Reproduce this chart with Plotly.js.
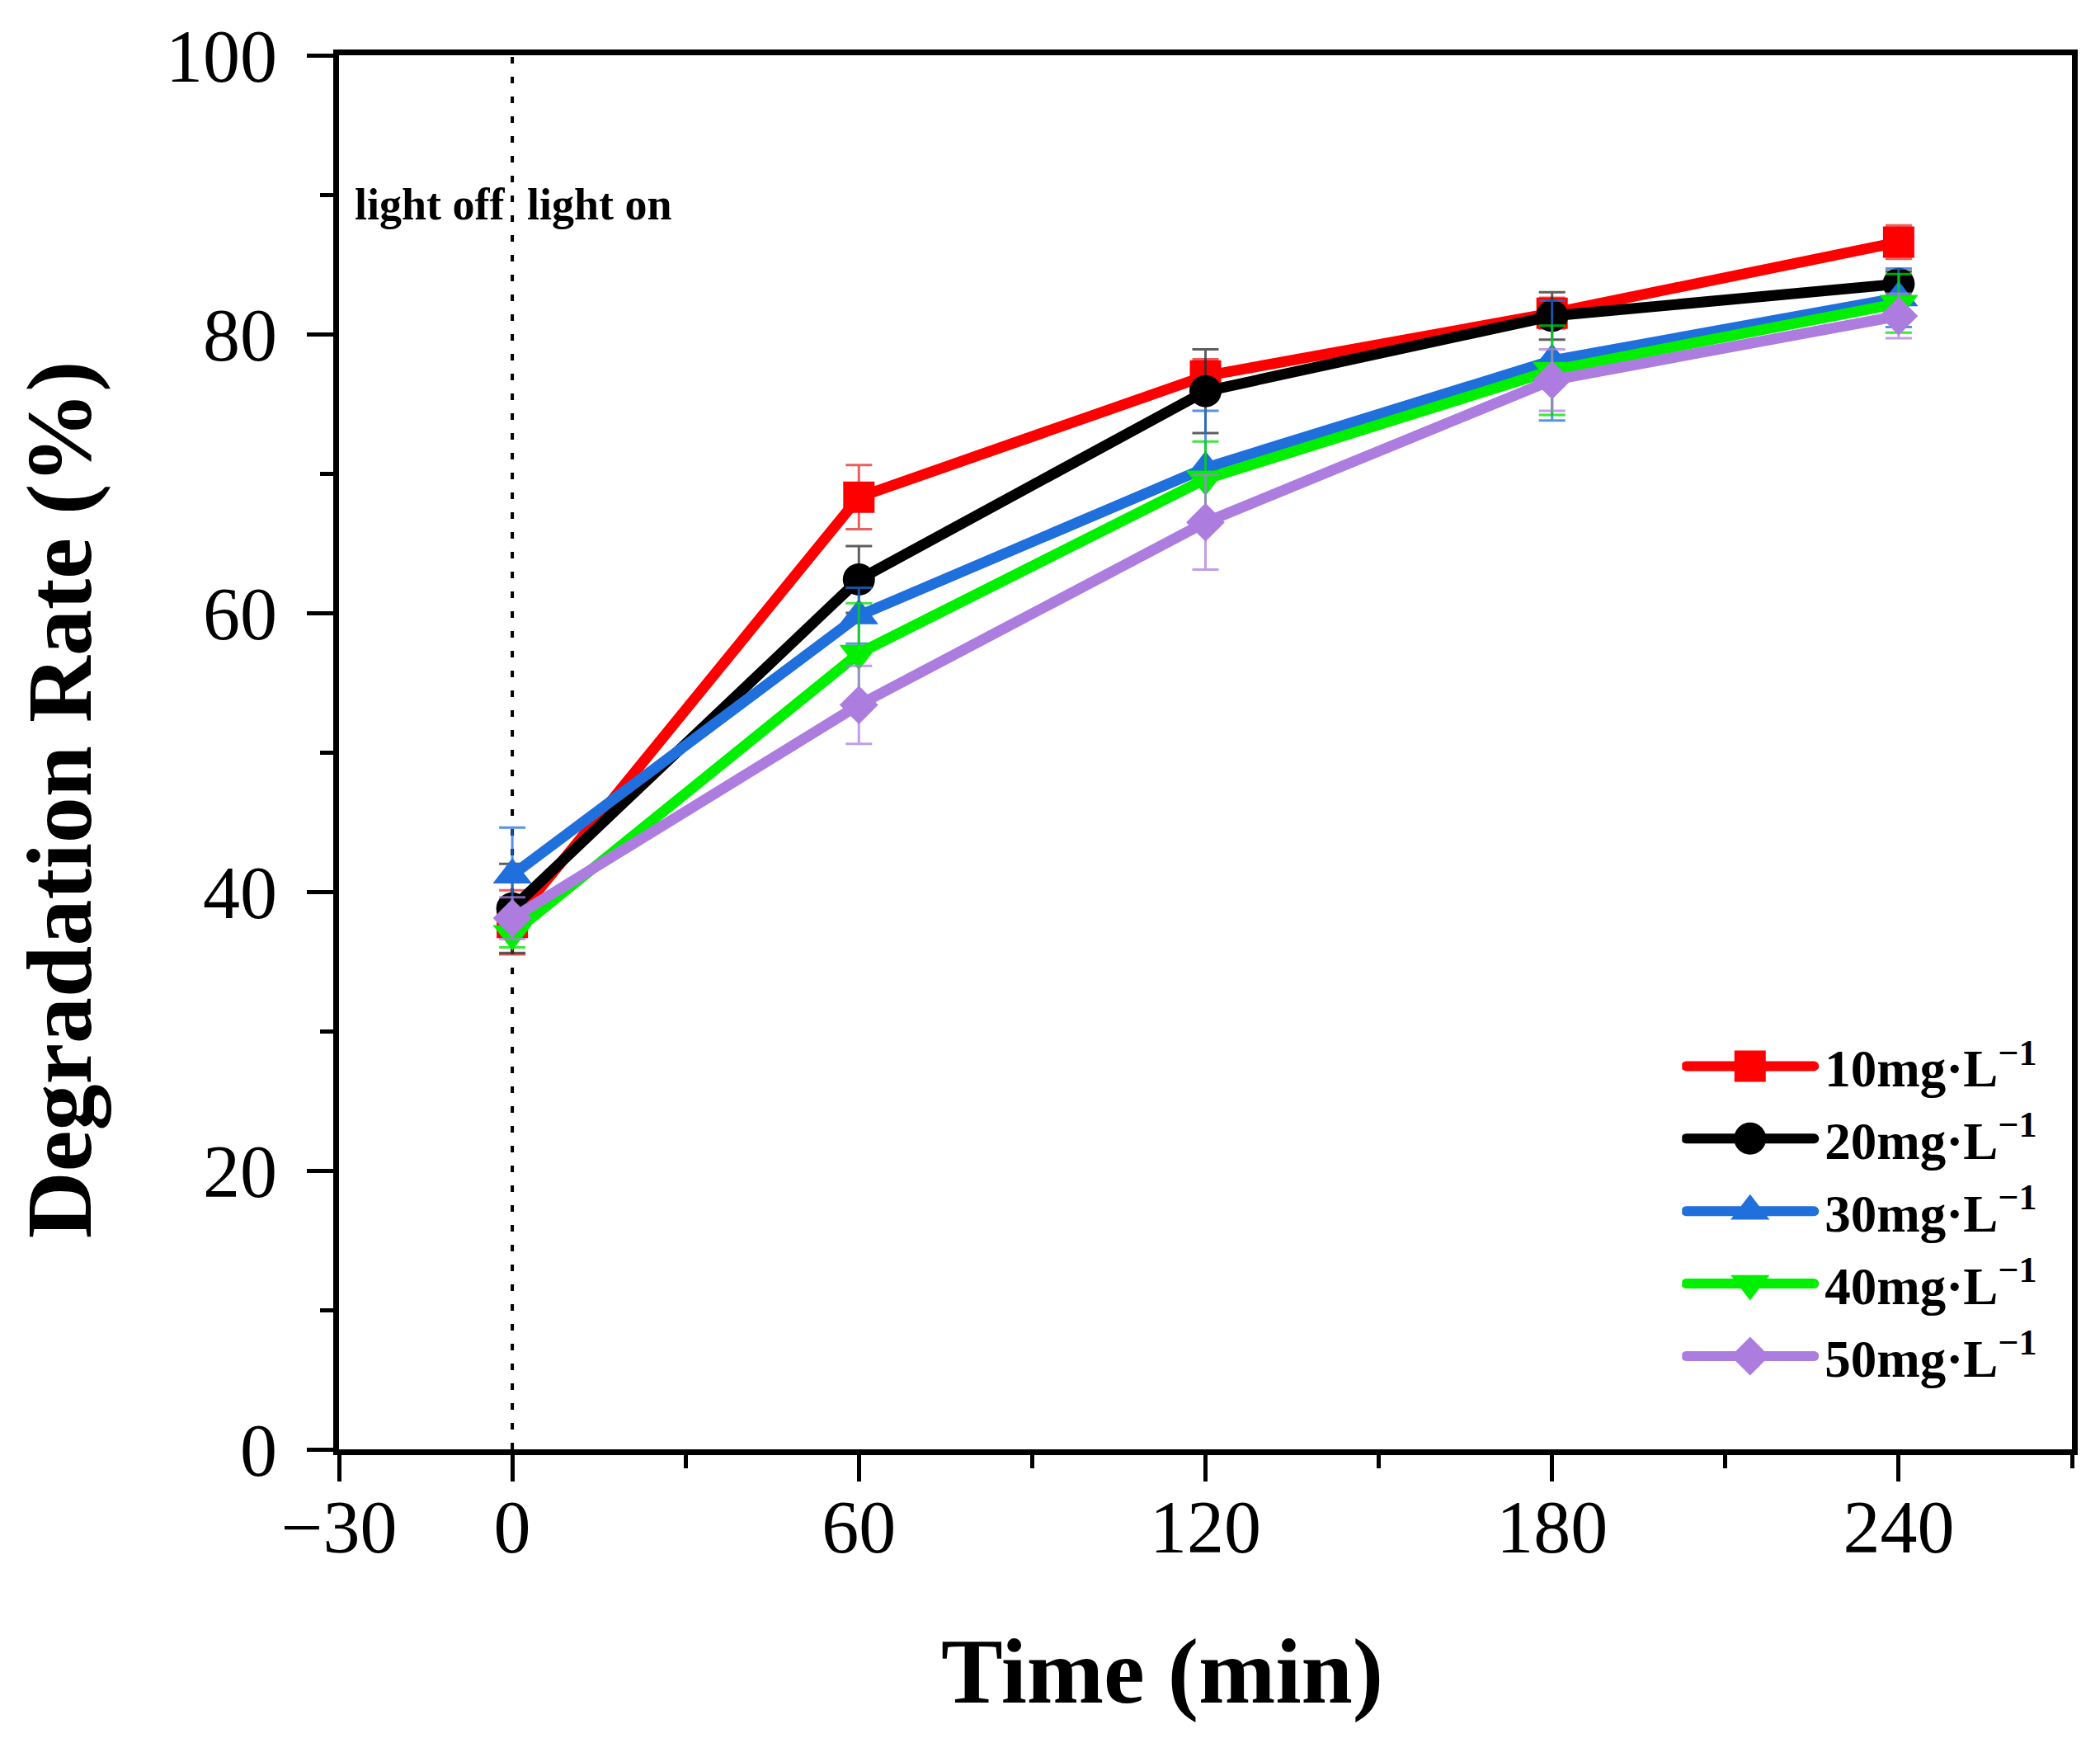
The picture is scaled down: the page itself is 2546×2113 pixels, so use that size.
<!DOCTYPE html>
<html>
<head>
<meta charset="utf-8">
<script src="https://cdn.plot.ly/plotly-3.0.1.min.js"></script>
<style>
  html, body { margin: 0; padding: 0; background: #fff; }
  #plot { width: 2546px; height: 2113px; }
</style>
</head>
<body>
<div id="plot"></div>
<script>
// sampling times (min) and degradation rate (%) per initial concentration
const time = [0, 60, 120, 180, 240];

const rate10 = [37.8, 68.3, 77.0, 81.5, 86.6];
const err10 = [2.3, 2.3, 1.2, 1.1, 1.2];
const rate20 = [38.8, 62.4, 75.9, 81.3, 83.6];
const err20 = [3.2, 2.4, 3.0, 1.7, 0.9];
const rate30 = [41.2, 59.8, 70.4, 78.1, 82.6];
const err30 = [3.4, 2.0, 4.1, 4.3, 2.1];
const rate40 = [37.0, 57.1, 69.6, 77.4, 82.2];
const err40 = [1.0, 3.6, 2.7, 3.2, 2.1];
const rate50 = [38.1, 53.4, 66.5, 76.7, 81.3];
const err50 = [1.5, 2.8, 3.4, 2.2, 1.6];

const seriesNames = [
    '10mg·L<sup>−1</sup>',
    '20mg·L<sup>−1</sup>',
    '30mg·L<sup>−1</sup>',
    '40mg·L<sup>−1</sup>',
    '50mg·L<sup>−1</sup>',
];

const xTickVals = [-30, 0, 60, 120, 180, 240];
const yTickVals = [0, 20, 40, 60, 80, 100];
const lightSwitchTime = 0;
const lightLabels = ['light off', 'light on'];
const xTitle = 'Time (min)';
const yTitle = 'Degradation Rate (%)';

const serif = 'Liberation Serif, Times New Roman, serif';
const legendLineLength = 155;

const styles = [
    {color: '#ff0000', errColor: 'rgba(230, 40, 40, 0.75)', symbol: 'square', size: 38},
    {color: '#000000', errColor: 'rgba(40, 40, 40, 0.75)', symbol: 'circle', size: 39},
    {color: '#1f6fdc', errColor: 'rgba(31, 111, 220, 0.75)', symbol: 'triangle-up', size: 41},
    {color: '#00f000', errColor: 'rgba(0, 220, 0, 0.75)', symbol: 'triangle-down', size: 41},
    {color: '#ac7ddf', errColor: 'rgba(172, 125, 223, 0.75)', symbol: 'diamond', size: 36},
];

const rates = [rate10, rate20, rate30, rate40, rate50];
const errs = [err10, err20, err30, err40, err50];

let data = rates.map(function (rate, i) {
    return {
        name: seriesNames[i],
        legendgroup: 'g' + i,
        x: time,
        y: rate,
        type: 'scatter',
        mode: 'lines+markers',
        line: {color: styles[i].color, width: 13},
        marker: {color: styles[i].color, symbol: styles[i].symbol, size: styles[i].size},
        error_y: {
            type: 'data',
            array: errs[i],
            visible: true,
            color: styles[i].errColor,
            thickness: 3,
            width: 16,
        },
    };
});

let axisCommon = {
    showline: true,
    linewidth: 7,
    linecolor: '#000',
    mirror: true,
    showgrid: false,
    zeroline: false,
    ticks: 'outside',
    ticklen: 32,
    tickwidth: 5,
    tickcolor: '#000',
    tickfont: {family: serif, size: 90, color: '#000'},
    minor: {
        ticks: 'outside',
        ticklen: 16,
        tickwidth: 5,
        tickcolor: '#000',
        showgrid: false,
    },
};

let boldFont = function (size) {
    return {family: serif, size: size, weight: 'bold', color: '#000'};
};

let layout = {
    width: 2546,
    height: 2113,
    margin: {l: 411, r: 34, t: 67, b: 356},
    paper_bgcolor: '#fff',
    plot_bgcolor: '#fff',
    showlegend: true,
    xaxis: Object.assign({}, axisCommon, {
        range: [-30, 270],
        tickvals: xTickVals,
        ticklabelstandoff: -22,
        minor: Object.assign({}, axisCommon.minor, {tick0: 0, dtick: 30}),
    }),
    yaxis: Object.assign({}, axisCommon, {
        range: [0, 100],
        tickvals: yTickVals,
        ticklabelstandoff: 18,
        minor: Object.assign({}, axisCommon.minor, {tick0: 0, dtick: 10}),
    }),
    legend: {
        x: 0.775,
        y: 0.303,
        xanchor: 'left',
        yanchor: 'top',
        bgcolor: 'rgba(0,0,0,0)',
        font: boldFont(63),
        itemwidth: legendLineLength + 8,
        tracegroupgap: 3,
    },
    shapes: [{
        type: 'line',
        xref: 'x',
        yref: 'paper',
        x0: lightSwitchTime,
        x1: lightSwitchTime,
        y0: 0,
        y1: 1,
        line: {color: '#000', width: 4, dash: '8px,16px'},
        layer: 'below',
    }],
    annotations: [
        {
            // axis titles sit slightly off-centre in the original figure
            text: xTitle,
            xref: 'paper',
            yref: 'paper',
            x: 0.475,
            y: -0.159,
            xanchor: 'center',
            yanchor: 'middle',
            showarrow: false,
            font: boldFont(112),
        },
        {
            text: yTitle,
            xref: 'paper',
            yref: 'paper',
            x: -0.161,
            y: 0.466,
            xanchor: 'center',
            yanchor: 'middle',
            textangle: -90,
            showarrow: false,
            font: boldFont(112),
        },
        {
            text: lightLabels[0],
            x: lightSwitchTime,
            y: 89.3,
            xref: 'x',
            yref: 'y',
            xanchor: 'right',
            xshift: -6,
            showarrow: false,
            font: boldFont(54),
        },
        {
            text: lightLabels[1],
            x: lightSwitchTime,
            y: 89.3,
            xref: 'x',
            yref: 'y',
            xanchor: 'left',
            xshift: 16,
            showarrow: false,
            font: boldFont(54),
        },
    ],
};

Plotly.newPlot('plot', data, layout, {displayModeBar: false, staticPlot: true}).then(function (gd) {
    // Plotly caps legend symbol sizes, so stretch the keys to match the original
    gd.querySelectorAll('.legend .traces').forEach(function (item, i) {
        item.querySelectorAll('.legendlines path').forEach(function (p) {
            p.setAttribute('d', 'M5,0h' + legendLineLength);
            p.style.strokeWidth = '12px';
            p.style.strokeLinecap = 'round';
        });
        item.querySelectorAll('.legendpoints path.scatterpts').forEach(function (p) {
            let scale = styles[i].size / 16;
            p.setAttribute('transform', 'translate(' + (5 + legendLineLength / 2) + ',0) scale(' + scale + ')');
        });
    });
});
</script>
</body>
</html>
